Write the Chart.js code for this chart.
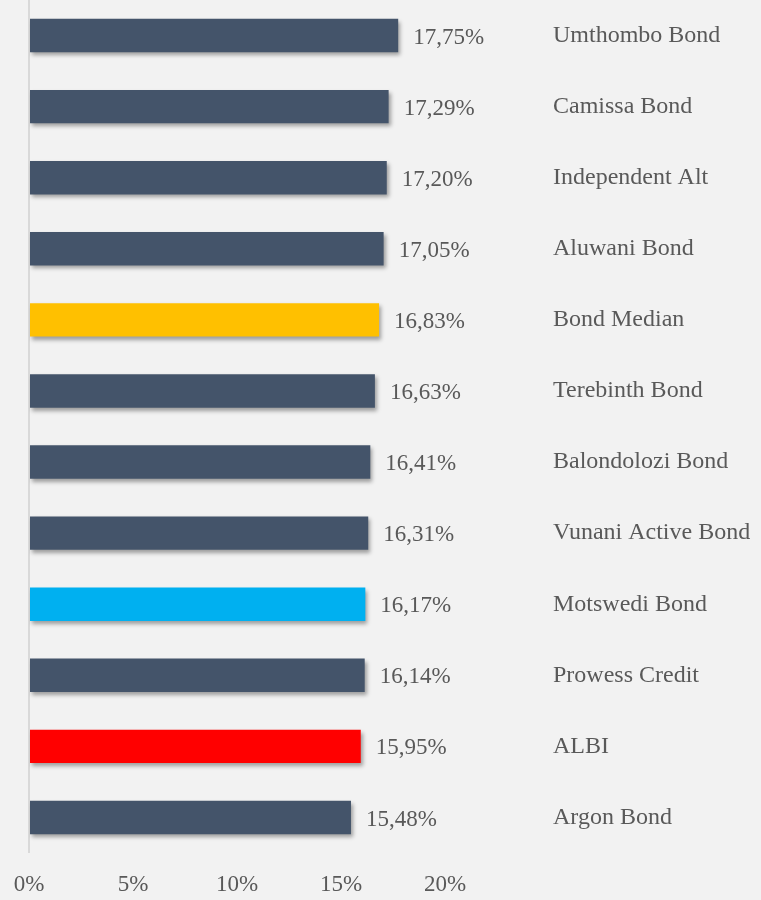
<!DOCTYPE html>
<html>
<head>
<meta charset="utf-8">
<script src="https://cdn.jsdelivr.net/npm/chart.js@4/dist/chart.umd.min.js"></script>
<style>
  html, body { margin: 0; padding: 0; background: #f2f2f2; }
  canvas { display: block; }
</style>
</head>
<body>
<canvas id="c" width="761" height="900"></canvas>
<script>
// Rendimiento por fondo (%)
const categories = [
  'Umthombo Bond', 'Camissa Bond', 'Independent Alt', 'Aluwani Bond',
  'Bond Median', 'Terebinth Bond', 'Balondolozi Bond', 'Vunani Active Bond',
  'Motswedi Bond', 'Prowess Credit', 'ALBI', 'Argon Bond'
];
const returns = [17.75, 17.29, 17.20, 17.05, 16.83, 16.63, 16.41, 16.31, 16.17, 16.14, 15.95, 15.48];
const xTicks = [0, 5, 10, 15, 20];

const SLATE = '#44546a';
const highlight = { 'Bond Median': '#ffc000', 'Motswedi Bond': '#00b0f0', 'ALBI': '#ff0000' };
const colors = categories.map(c => highlight[c] || SLATE);
const TEXT = '#595959';
const FONT = "'Liberation Serif', 'DejaVu Serif', serif";

const fmt = v => v.toFixed(2).replace('.', ',') + '%';

// sombra suave bajo las barras
const barShadow = {
  id: 'barShadow',
  beforeDatasetDraw(chart) {
    const ctx = chart.ctx;
    ctx.save();
    ctx.shadowColor = 'rgba(0,0,0,0.35)';
    ctx.shadowBlur = 4;
    ctx.shadowOffsetX = 2;
    ctx.shadowOffsetY = 3;
  },
  afterDatasetDraw(chart) { chart.ctx.restore(); }
};

// etiquetas de valor al final de cada barra
const valueLabels = {
  id: 'valueLabels',
  afterDatasetsDraw(chart) {
    const ctx = chart.ctx;
    const meta = chart.getDatasetMeta(0);
    ctx.save();
    ctx.font = `23px ${FONT}`;
    ctx.fillStyle = TEXT;
    ctx.textAlign = 'left';
    ctx.textBaseline = 'middle';
    meta.data.forEach((bar, i) => {
      ctx.fillText(fmt(returns[i]), bar.x + 15, bar.y + 2);
    });
    ctx.restore();
  }
};

new Chart(document.getElementById('c'), {
  type: 'bar',
  data: {
    labels: categories,
    datasets: [{
      data: returns,
      backgroundColor: colors,
      borderWidth: 0,
      categoryPercentage: 1,
      barPercentage: 0.47,
    }],
  },
  options: {
    indexAxis: 'y',
    responsive: false,
    animation: false,
    layout: { padding: { top: 0, left: 29, right: 0, bottom: 0 } },
    plugins: { legend: { display: false }, tooltip: { enabled: false } },
    scales: {
      x: {
        min: 0, max: 20,
        afterBuildTicks: (s) => { s.ticks = xTicks.map(v => ({ value: v })); },
        afterFit: (s) => { s.height = 47; s.paddingLeft = 0; s.paddingRight = 0; },
        grid: {
          drawTicks: false,
          lineWidth: 2,
          color: (c) => c.tick && c.tick.value === 0 ? '#d9d9d9' : 'rgba(0,0,0,0)',
        },
        border: { display: false },
        ticks: {
          color: TEXT,
          font: { family: FONT, size: 23 },
          padding: 18,
          callback: (v) => v + '%',
        },
      },
      y: {
        position: 'right',
        grid: { display: false },
        border: { display: false },
        afterFit: (s) => { s.width = 316; s.paddingTop = 0; s.paddingBottom = 0; },
        ticks: {
          color: TEXT,
          font: { family: FONT, size: 24 },
          padding: 100,
          crossAlign: 'near',
        },
      },
    },
  },
  plugins: [barShadow, valueLabels],
});
</script>
</body>
</html>
